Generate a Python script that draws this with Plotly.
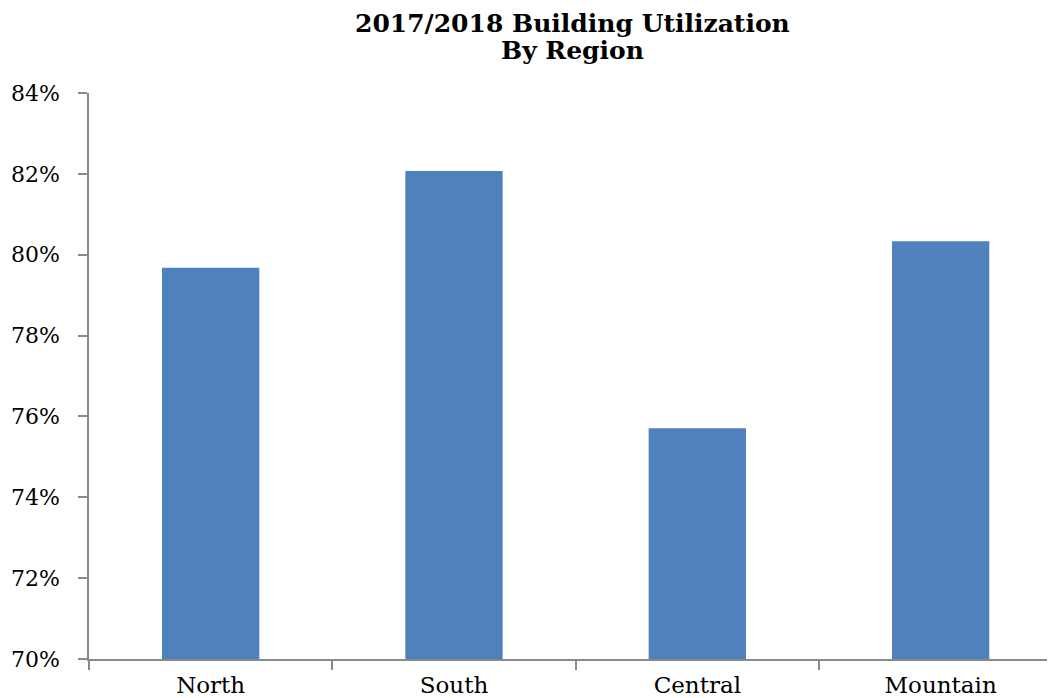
import plotly.graph_objects as go

regions = ["North", "South", "Central", "Mountain"]
utilization = [79.68, 82.07, 75.71, 80.33]
y_ticks = [70, 72, 74, 76, 78, 80, 82, 84]
y_tick_labels = [f"{v}%" for v in y_ticks]
title_lines = ["2017/2018 Building Utilization", "By Region"]

font_family = "DejaVu Serif"
axis_gray = "#8a8a8a"

fig = go.Figure(
    go.Bar(
        x=regions,
        y=utilization,
        width=0.4,
        marker=dict(color="#4F81BD", line=dict(width=0)),
        hoverinfo="skip",
    )
)

# figure sits at an 8px page offset (default body margin)
plot_bottom = 651
plot_height = 566
for text, py in zip(title_lines, [15, 43]):
    fig.add_annotation(
        text=f"<b>{text}</b>",
        xref="paper",
        yref="paper",
        x=0.5,
        y=(plot_bottom - py) / plot_height,
        xanchor="center",
        yanchor="middle",
        showarrow=False,
        font=dict(family=font_family, size=25, color="black"),
    )

fig.update_layout(
    width=1047,
    height=690,
    margin=dict(l=81, r=0, t=85, b=39),
    paper_bgcolor="white",
    plot_bgcolor="white",
    showlegend=False,
    font=dict(family=font_family, color="black"),
    xaxis=dict(
        range=[-0.5, 3.47],
        showline=True,
        linecolor=axis_gray,
        linewidth=1.5,
        ticks="outside",
        tickson="boundaries",
        ticklen=9,
        tickcolor=axis_gray,
        tickwidth=1.5,
        showgrid=False,
        ticklabelstandoff=5,
        tickfont=dict(family=font_family, size=23, color="black"),
        fixedrange=True,
        automargin=False,
    ),
    yaxis=dict(
        range=[70, 84],
        tickvals=y_ticks,
        ticktext=y_tick_labels,
        showline=True,
        linecolor=axis_gray,
        linewidth=1.5,
        ticks="outside",
        ticklen=9,
        tickcolor=axis_gray,
        tickwidth=1.5,
        showgrid=False,
        zeroline=False,
        ticklabelstandoff=14,
        tickfont=dict(family=font_family, size=22, color="black"),
        fixedrange=True,
        automargin=False,
    ),
)

fig.write_html("out.html")
